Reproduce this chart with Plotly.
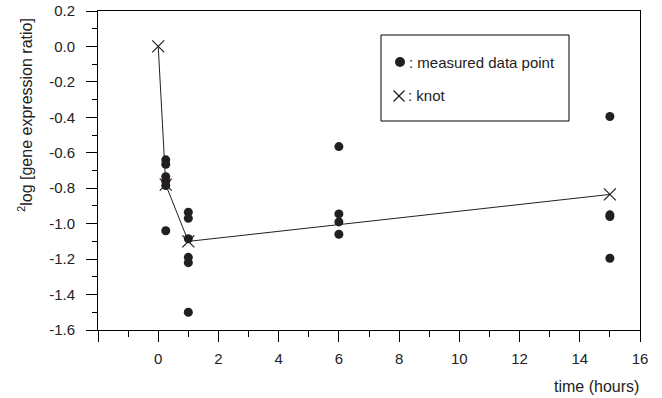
import plotly.graph_objects as go

# ---- data ----
pt_time = [0.25]*6 + [1]*6 + [6]*4 + [15]*4
pt_value = [-0.64, -0.665, -0.735, -0.76, -0.785, -1.04,
            -0.935, -0.97, -1.085, -1.19, -1.22, -1.50,
            -0.565, -0.945, -0.99, -1.06,
            -0.395, -0.95, -0.96, -1.195]
knot_time = [0, 0.25, 1, 15]
knot_value = [0.0, -0.78, -1.10, -0.835]

x_tickvals = [-2, 0, 2, 4, 6, 8, 10, 12, 14, 16]
x_ticktext = [" ", "0", "2", "4", "6", "8", "10", "12", "14", "16"]
y_tickvals = [-1.6, -1.4, -1.2, -1.0, -0.8, -0.6, -0.4, -0.2, 0.0, 0.2]
y_ticktext = ["-1.6", "-1.4", "-1.2", "-1.0", "-0.8", "-0.6", "-0.4", "-0.2", "0.0", "0.2"]

INK = "#231f20"
FONT = "Liberation Sans, Arial, Helvetica, sans-serif"

W, H = 662, 398
PL, PT = 98, 11            # plot-area left/top in window pixels
PW, PH = 542, 319          # plot-area size
L, T = PL, PT
R, B = W - L - PW, H - T - PH

def px(x):
    return (x - PL) / PW

def py(y):
    return 1 - (y - PT) / PH

fig = go.Figure()
fig.add_trace(go.Scatter(x=pt_time, y=pt_value, mode="markers",
                         marker=dict(size=9, color=INK),
                         showlegend=False, hoverinfo="skip"))
fig.add_trace(go.Scatter(x=knot_time, y=knot_value, mode="lines+markers",
                         line=dict(color=INK, width=1),
                         marker=dict(symbol="x-thin", size=12,
                                     line=dict(color=INK, width=1.2)),
                         showlegend=False, hoverinfo="skip"))

axis_common = dict(showline=True, linecolor="black", linewidth=1, mirror=True,
                   ticks="outside", tickcolor="black", tickwidth=1, ticklen=11,
                   showgrid=False, zeroline=False, automargin=False,
                   tickfont=dict(family=FONT, size=15, color="#222"))

fig.update_xaxes(range=[-2, 16], tickmode="array", tickvals=x_tickvals,
                 ticktext=x_ticktext, ticklabelstandoff=4,
                 minor=dict(dtick=1, tick0=0, ticks="outside", ticklen=6,
                            tickcolor="black", tickwidth=1),
                 **axis_common)
fig.update_yaxes(range=[-1.6, 0.2], tickmode="array", tickvals=y_tickvals,
                 ticktext=y_ticktext, ticklabelstandoff=8,
                 minor=dict(dtick=0.1, tick0=0, ticks="outside", ticklen=5,
                            tickcolor="black", tickwidth=1),
                 **axis_common)

shapes = [
    dict(type="rect", xref="paper", yref="paper",
         x0=px(381), x1=px(569), y0=py(121), y1=py(35),
         line=dict(color="black", width=1), fillcolor="white"),
    dict(type="circle", xref="paper", yref="paper",
         x0=px(395), x1=px(405), y0=py(67), y1=py(57),
         line=dict(color=INK, width=0), fillcolor=INK),
    dict(type="line", xref="paper", yref="paper",
         x0=px(393.5), x1=px(404.5), y0=py(90.5), y1=py(101.5),
         line=dict(color=INK, width=1.2)),
    dict(type="line", xref="paper", yref="paper",
         x0=px(393.5), x1=px(404.5), y0=py(101.5), y1=py(90.5),
         line=dict(color=INK, width=1.2)),
]

annotations = [
    dict(text=": measured data point", xref="paper", yref="paper",
         x=px(407), y=py(62), xanchor="left", yanchor="middle", showarrow=False,
         font=dict(family=FONT, size=15, color="#222")),
    dict(text=": knot", xref="paper", yref="paper",
         x=px(406), y=py(96), xanchor="left", yanchor="middle", showarrow=False,
         font=dict(family=FONT, size=15, color="#222")),
    dict(text="time (hours)", xref="paper", yref="paper",
         x=px(641), y=py(386), xanchor="right", yanchor="middle", showarrow=False,
         font=dict(family=FONT, size=16, color="#222")),
    dict(text="<sup>2</sup>log [gene expression ratio]", xref="paper", yref="paper",
         x=px(25), y=py(115), xanchor="center", yanchor="middle", showarrow=False,
         textangle=-90, font=dict(family=FONT, size=16, color="#222")),
]

fig.update_layout(width=W, height=H, margin=dict(l=L, r=R, t=T, b=B, autoexpand=False),
                  plot_bgcolor="white", paper_bgcolor="white",
                  shapes=shapes, annotations=annotations, showlegend=False)

fig.write_html("out.html",
               config={"displayModeBar": False},
               post_script="document.body.style.margin='0px';")
